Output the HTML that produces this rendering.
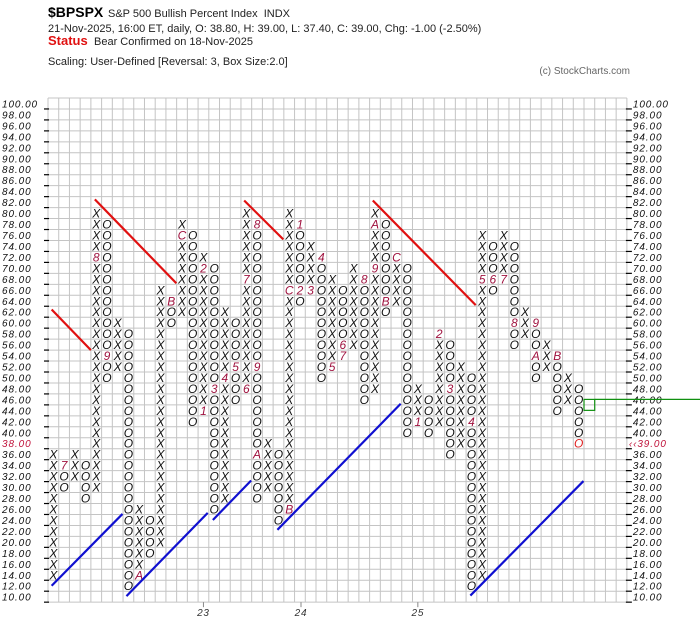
<!DOCTYPE html>
<html><head><meta charset="utf-8"><style>
body{margin:0;background:#fff;}
svg{display:block;font-family:"Liberation Sans",sans-serif;}
</style></head><body>
<svg id="chart" width="700" height="635" viewBox="0 0 700 635">
<g>
<text x="48" y="17" font-size="14" font-weight="bold">$BPSPX</text>
<text x="108" y="17" font-size="11" fill="#222">S&amp;P 500 Bullish Percent Index&#160; INDX</text>
<text x="48" y="32" font-size="11" fill="#222">21-Nov-2025, 16:00 ET, daily, O: 38.80, H: 39.00, L: 37.40, C: 39.00, Chg: -1.00 (-2.50%)</text>
<text x="48" y="45" font-size="13" font-weight="bold" fill="#e01010">Status</text>
<text x="94" y="45" font-size="11" fill="#222">Bear Confirmed on 18-Nov-2025</text>
<text x="48" y="65" font-size="11" fill="#222">Scaling: User-Defined [Reversal: 3, Box Size:2.0]</text>
<text x="630" y="74" font-size="10" fill="#666" text-anchor="end">(c) StockCharts.com</text>
</g>
<g id="grid"></g>
<g id="axes"></g>
<g id="marks"></g>
<g id="lines"></g>
</svg>
<script>
const colTypes = ['X','O','X','O','X','O','X','O','X','O','X','O','X','O','X','O','X','O','X','O','X','O','X','O','X','O','X','O','X','O','X','O','X','O','X','O','X','O','X','O','X','O','X','O','X','O','X','O','X','O'];
const colLows  = [14,30,32,28,30,50,52,12,14,18,20,60,62,42,44,26,28,46,48,28,30,24,26,64,66,50,52,54,56,46,48,62,64,40,42,40,42,36,38,12,14,66,68,56,58,50,52,44,46,38];
const colHighs = [36,34,36,34,80,78,60,58,26,24,66,64,78,76,72,70,62,60,80,78,38,36,80,78,74,72,68,66,70,68,80,78,72,70,48,46,58,56,52,50,76,74,76,74,62,60,56,54,50,48];
const monthMarks = [[1,34,'7'],[4,72,'8'],[5,54,'9'],[8,14,'A'],[11,64,'B'],[12,76,'C'],[14,44,'1'],[14,70,'2'],[15,48,'3'],[16,50,'4'],[17,52,'5'],[18,48,'6'],[18,68,'7'],[19,78,'8'],[19,52,'9'],[19,36,'A'],[22,26,'B'],[22,66,'C'],[23,78,'1'],[23,66,'2'],[24,66,'3'],[25,72,'4'],[26,52,'5'],[27,56,'6'],[27,54,'7'],[29,68,'8'],[30,70,'9'],[30,78,'A'],[31,64,'B'],[32,72,'C'],[34,42,'1'],[36,58,'2'],[37,48,'3'],[39,42,'4'],[40,68,'5'],[41,68,'6'],[42,68,'7'],[43,60,'8'],[45,60,'9'],[45,54,'A'],[47,54,'B']];
const currentBox = [49,38];
const resistanceLines = [[0.34,62.4,4.0,55.0],[4.37,82.5,11.97,67.2],[18.3,82.3,21.95,75.2],[30.3,82.3,39.9,63.2]];
const supportLines = [[0.34,12.0,6.95,25.1],[7.32,10.1,14.9,25.3],[15.38,24.0,18.95,31.2],[21.4,22.2,32.9,45.2],[39.4,10.2,49.95,31.1]];
const yearLabels = ['23','24','25'];
const yearCols = [14.5,23.6,34.5];
const priceLevel = 45;
const priceCol = 50;

const NS='http://www.w3.org/2000/svg';
const x0=48, cw=10.72, y0=98, rh=10.96, nCols=54, vMax=100, vMin=10;
const nRows=(vMax-vMin)/2+1;
function xs(u){return x0+u*cw;}
function ys(w){return y0+(vMax+1-w)/2*rh;}
function mk(tag,attrs,parent){const e=document.createElementNS(NS,tag);for(const k in attrs)e.setAttribute(k,attrs[k]);parent.appendChild(e);return e;}
const grid=document.getElementById('grid'),axes=document.getElementById('axes'),marks=document.getElementById('marks'),lines=document.getElementById('lines');

for(let i=0;i<=nCols;i++){const l=mk('line',{x1:xs(i),x2:xs(i),y1:y0,y2:y0+nRows*rh,stroke:'#c4c4c4','stroke-width':1},grid);

}
for(let r=0;r<=nRows;r++){const l=mk('line',{x1:x0,x2:xs(nCols),y1:y0+r*rh,y2:y0+r*rh,stroke:'#c4c4c4','stroke-width':1},grid);

}

for(let v=vMax;v>=vMin;v-=2){
 const yb=ys(v-1), yc=ys(v)+4;
 const t1=mk('line',{x1:x0-4,x2:x0+1,y1:yb,y2:yb,stroke:'#000','stroke-width':1.2},axes);
 
 
 const t2=mk('line',{x1:xs(nCols)-1,x2:xs(nCols)+5,y1:yb,y2:yb,stroke:'#000','stroke-width':1.2},axes);
 
 
 const isCur=(v===currentBox[1]);
 const lt=mk('text',{x:2,y:yc,'font-size':10,'font-style':'italic','letter-spacing':'0.9',fill:isCur?'#c0143c':'#111'},axes);
 lt.textContent=v.toFixed(2);
 
 
 const rt=mk('text',{x:isCur?xs(nCols)+2:xs(nCols)+6,y:yc,'font-size':10,'font-style':'italic','letter-spacing':'0.9',fill:isCur?'#c0143c':'#111'},axes);
 rt.textContent=isCur?'\u2039\u203939.00':v.toFixed(2);
 
 
}
yearLabels.forEach((lab,i)=>{
 const x=xs(yearCols[i]);
 const tk=mk('line',{x1:x,x2:x,y1:y0+nRows*rh,y2:y0+nRows*rh+5,stroke:'#888'},axes);
 
 
 const t=mk('text',{x:x,y:y0+nRows*rh+14,'font-size':10,'font-style':'italic','text-anchor':'middle',fill:'#333','letter-spacing':'0.8'},axes);
 t.textContent=lab;
 
 
});

const markMap={};
monthMarks.forEach(m=>{markMap[m[0]+'_'+m[1]]=m[2];});
colTypes.forEach((tp,c)=>{
 for(let v=colLows[c];v<=colHighs[c];v+=2){
  const key=c+'_'+v;
  let ch=tp, fill='#111';
  if(markMap[key]){ch=markMap[key];fill='#a0123f';}
  if(c===currentBox[0]&&v===currentBox[1]){fill='#e02020';}
  const t=mk('text',{x:xs(c+0.5),y:ys(v)+4.5,'font-size':12,'font-style':'italic','text-anchor':'middle',fill:fill},marks);
  t.textContent=ch;
  
  
 }
});

resistanceLines.forEach(s=>{
 const l=mk('line',{x1:xs(s[0]),y1:ys(s[1]),x2:xs(s[2]),y2:ys(s[3]),stroke:'#e01010','stroke-width':2.2},lines);
 
 
});
supportLines.forEach(s=>{
 const l=mk('line',{x1:xs(s[0]),y1:ys(s[1]),x2:xs(s[2]),y2:ys(s[3]),stroke:'#1010d0','stroke-width':2.2},lines);
 
 
});
const pb=mk('rect',{x:xs(priceCol),y:ys(priceLevel+1),width:cw,height:rh,fill:'none',stroke:'#109010','stroke-width':1.2},lines);


const pl=mk('line',{x1:xs(priceCol+1),x2:700,y1:ys(priceLevel+1),y2:ys(priceLevel+1),stroke:'#109010','stroke-width':1.2},lines);


</script>
</body></html>
